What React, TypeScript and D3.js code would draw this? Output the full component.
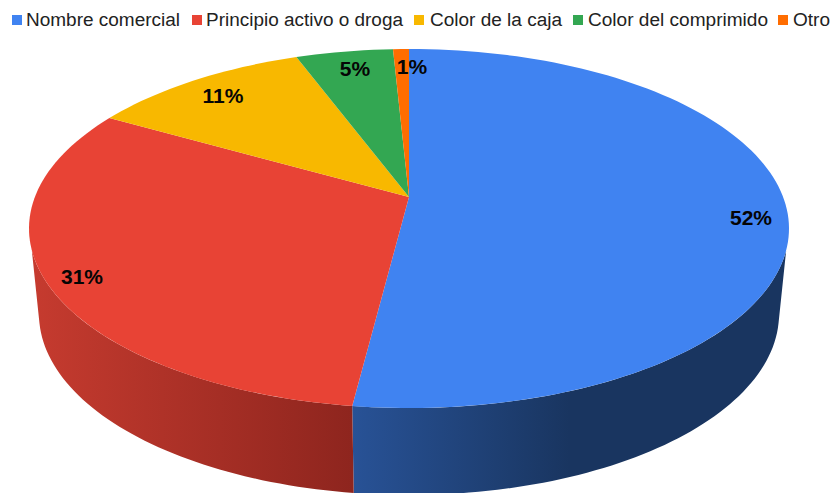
import React from "react";
import * as d3 from "d3";

const categories = ["Nombre comercial", "Principio activo o droga", "Color de la caja", "Color del comprimido", "Otro"];
const values = [52.0, 31.2, 11.1, 4.9, 0.8];
const labels = ["52%", "31%", "11%", "5%", "1%"];

const colors = ["#4083f1", "#e84335", "#f8b800", "#33a752", "#ff6d01"];
const legendSwatchX = [12, 192, 414, 573, 778];
const legendTextX = [26, 206, 430, 588, 793];
const legendTextW = [154, 197, 132, 180, 37];
const labelPos: [number, number][] = [[751, 218], [82, 277], [223, 96], [355, 69], [412, 67]];

const W = 835, H = 493;
const top = { cx: 409, cy: 228.5, rx: 380, ry: 179.5 };
const bottom = { cx: 409, cy: 314, rx: 370, ry: 181 };
const c = 0.1755;
const toRad = Math.PI / 180;
const topSil = [97 * toRad, 263 * toRad];
const botSil = [93 * toRad, 267 * toRad];

// perspective map of a disc angle (clockwise from top) to the angle on the drawn ellipse
const persp = (t: number) => {
  const X = Math.sin(t), Y = -Math.cos(t);
  const d = 1 - c * Y;
  const xp = (X * Math.sqrt(1 - c * c)) / d, yp = (Y - c) / d;
  let a = Math.atan2(xp, -yp);
  if (a < 0) a += 2 * Math.PI;
  return a;
};
type E = typeof top;
const rim = (e: E, a: number): [number, number] => [e.cx + e.rx * Math.sin(a), e.cy - e.ry * Math.cos(a)];
const samples = (a0: number, a1: number) => {
  const n = Math.max(2, Math.ceil((Math.abs(a1 - a0) / Math.PI) * 120));
  return d3.range(n + 1).map((i) => a0 + ((a1 - a0) * i) / n);
};
const line = d3.line();

const pie = d3.pie<number>().sort(null).value((d) => d);
const arcs = pie(values);
const color = d3.scaleOrdinal<number, string>().domain(d3.range(values.length)).range(colors);

export default function App() {
  const apex: [number, number] = [top.cx, top.cy - c * top.ry];
  const ends = arcs.map((a) => {
    const s = a.startAngle === 0 ? 0 : persp(a.startAngle);
    const e = a.endAngle >= 2 * Math.PI - 1e-6 ? 2 * Math.PI : persp(a.endAngle);
    return [s, e];
  });
  const clampTo = (v: number, r: number[]) => Math.min(r[1], Math.max(r[0], v));
  const wall = (i: number) => {
    const [s, e] = ends[i];
    if (e <= topSil[0] || s >= topSil[1]) return null;
    const upper = samples(clampTo(s, topSil), clampTo(e, topSil)).map((a) => rim(top, a));
    const lower = samples(clampTo(s, botSil), clampTo(e, botSil)).map((a) => rim(bottom, a)).reverse();
    return line([...upper, ...lower]) + "Z";
  };
  const boundaryX = rim(top, ends[0][1])[0];
  return (
    <svg width={W} height={H} viewBox={`0 0 ${W} ${H}`} style={{ position: "absolute", left: 0, top: 0, background: "#fff" }}>
      <defs>
        <linearGradient id="wall0" gradientUnits="userSpaceOnUse" x1={boundaryX} x2={570} y1={0} y2={0}>
          <stop offset="0" stopColor="#285296" />
          <stop offset="1" stopColor="#193560" />
        </linearGradient>
        <linearGradient id="wall1" gradientUnits="userSpaceOnUse" x1={30} x2={boundaryX} y1={0} y2={0}>
          <stop offset="0" stopColor="#c63b2f" />
          <stop offset="1" stopColor="#8e251e" />
        </linearGradient>
      </defs>
      {arcs.map((_, i) => {
        const d = wall(i);
        return d ? <path key={i} d={d} fill={`url(#wall${i})`} /> : null;
      })}
      {arcs.map((_, i) => {
        const [s, e] = ends[i];
        const pts = samples(s, e).map((a) => rim(top, a));
        return <path key={i} d={line([apex, ...pts]) + "Z"} fill={color(i)} />;
      })}
      {labels.map((t, i) => (
        <text key={t} x={labelPos[i][0]} y={labelPos[i][1]} dy="0.32em" textAnchor="middle"
          fontFamily="'Liberation Sans', Arial, sans-serif" fontWeight="bold" fontSize={21} fill="#050505">
          {t}
        </text>
      ))}
      {categories.map((t, i) => (
        <g key={t}>
          <rect x={legendSwatchX[i]} y={15} width={10} height={10} fill={color(i)} />
          <text x={legendTextX[i]} y={26} textLength={legendTextW[i]} lengthAdjust="spacingAndGlyphs"
            fontFamily="'Liberation Sans', Arial, sans-serif" fontSize={18} fill="#222">
            {t}
          </text>
        </g>
      ))}
    </svg>
  );
}
